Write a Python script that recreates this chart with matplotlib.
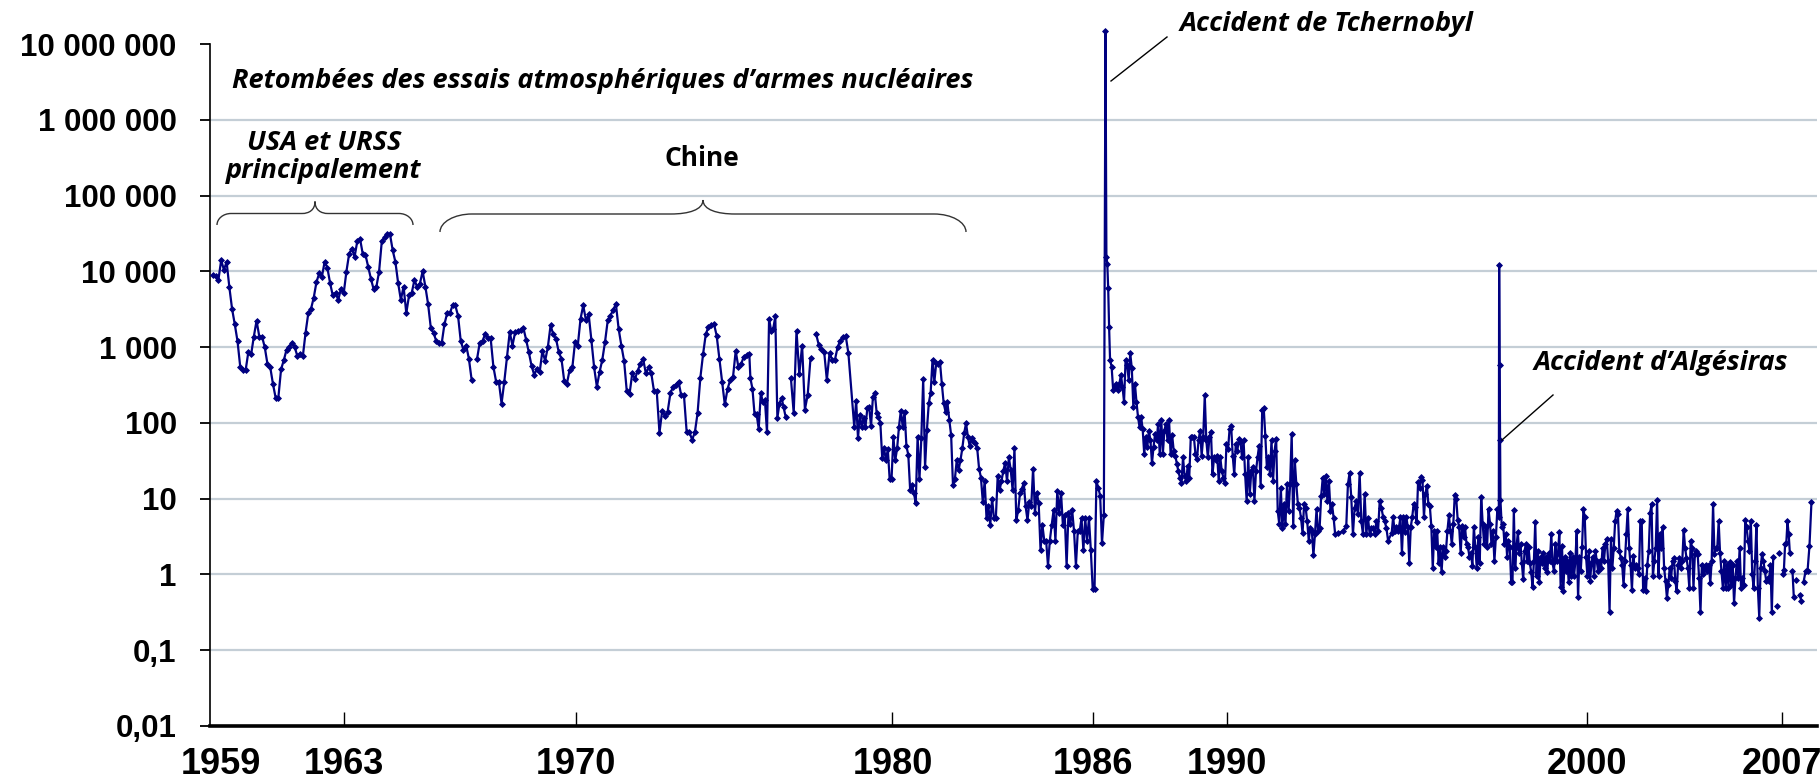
import numpy as np
import matplotlib
matplotlib.use('Agg')
import matplotlib.pyplot as plt
import matplotlib.transforms as mtransforms
from matplotlib.path import Path
from matplotlib.patches import PathPatch
from matplotlib.lines import Line2D
from matplotlib.ticker import NullLocator

# --- readings, block by block (each block = the period it covers) ---
# monthly 1959 - 1966
v1959 = [8900, 8600, 7800, 14000, 10500, 13300, 6200, 3200, 2000, 1200,
         550, 500, 500, 870, 800, 1380, 2230, 1380, 1380, 1000,
         600, 550, 330, 215, 215, 510, 670, 920, 1000, 1150,
         1000, 760, 820, 760, 1550, 2800, 3200, 4500, 7200, 9400,
         8500, 13300, 11200, 7000, 4800, 5200, 4200, 5900, 5100, 9900,
         17000, 20000, 15500, 25000, 27000, 17000, 16500, 11500, 8000, 5800,
         6200, 9900, 25000, 28000, 31000, 31000, 19000, 13300, 7000, 4200,
         6300, 2800, 4800, 5200, 7700, 6200, 6900, 10000, 6300, 3700,
         1800, 1550, 1200, 1120, 1120, 2000, 2800, 2800, 3550, 3550,
         2600, 1200, 920, 1050, 700, 370]
# monthly 1967 - 1975
v1967 = [700, 1150, 1200, 1500, 1300, 1300, 550, 350, 350, 180,
         350, 750, 1580, 1050, 1580, 1650, 1700, 1800, 1260, 860,
         570, 430, 520, 470, 890, 660, 1000, 1930, 1470, 1290,
         860, 700, 360, 330, 500, 540, 1170, 1050, 2360, 3550,
         2250, 2700, 1230, 540, 300, 470, 680, 1170, 2250, 2600,
         3100, 3700, 1740, 1050, 660, 260, 240, 450, 380, 490,
         600, 700, 450, 540, 450, 260, 260, 74, 145, 125,
         140, 245, 300, 320, 350, 230, 230, 75, 75, 60,
         75, 135, 390, 800, 1470, 1870, 1930, 2040, 1420, 700,
         350, 175, 280, 370, 400, 890, 540, 600, 750, 780,
         810]
v1975 = [390, 280, 130, 130, 83, 245, 190, 200, 75, 2360, 1650, 1740, 2540,
         117, 180, 215, 160, 120]
v1976 = [390, 135, 1650, 440, 1050, 150, 235, 715]
v1977 = [1500, 1070, 940, 875, 370, 830, 680, 680, 1000, 1220, 1360, 1410, 830]
v1978 = [88, 197, 63, 128, 88, 115, 88, 155, 160, 91, 218, 250, 137, 120, 100,
         34, 46, 32, 45, 18, 18, 66, 32, 46, 89, 145, 89, 141, 49, 38, 13, 15,
         12, 8.7, 66, 18, 63, 380, 26, 81, 182, 250, 680, 350, 615, 590, 640,
         330, 182, 140, 186, 110, 69, 15, 18, 32, 24, 32, 46, 73, 99, 66, 49,
         63, 57, 54, 46, 25, 19, 9.1, 17, 5.5, 7.9, 4.5, 10, 5.5, 5.5, 20, 13,
         17, 23, 30, 17, 35, 24, 13, 46, 5.2, 7, 12, 13.6, 16, 7.9, 5.2, 9.1,
         7.9, 25, 6.5, 12, 8.7, 2.1, 4.5, 2.8, 2.8, 1.3, 2.8, 4.5, 7, 2.8,
         12.7, 6.5, 12, 4.5, 6, 1.3, 6.5, 4.7, 7, 3.7, 1.3, 3.7, 3.7, 5.5,
         2.1, 5.5, 2.8, 5.5, 2.1, 0.65, 0.65, 17, 14, 11, 2.6, 6.1]
v_tchernobyl = [1.5e7, 15500, 12600, 6000, 1870]
v1986 = [680, 550, 270, 300, 330, 270, 330, 430, 300, 190, 680, 580, 370, 830,
         525, 162, 330, 190, 120, 88, 120, 83, 39, 65, 48, 79, 59, 29.5, 48,
         72, 59, 98, 39, 110, 39, 79, 98, 59, 108, 39, 69, 43, 37, 29, 23, 19,
         16, 35, 20, 17, 27, 19, 65, 65, 65, 39, 33, 59, 79, 37, 65, 230, 59,
         35, 65, 75, 21, 35, 32, 37, 17, 35, 23, 19, 16, 53, 45, 83, 92, 37,
         21, 53, 43, 62, 56, 35, 59, 21, 9.3, 35, 11.5, 23, 26, 9.3, 23, 35,
         50, 14.7, 147, 155, 68, 26, 35, 21, 59, 17, 43, 62, 6.9, 4.6, 14, 4.1,
         8.4, 4.6, 15.5, 6.9, 15.5, 72, 4.3, 32, 15.5, 8.4, 7.6, 5.6, 3.5, 8.4,
         7.6, 5, 2.8, 4.1, 3.7, 1.8, 3.4, 7.2, 3.7, 4.1, 10.8, 19, 11.5, 20,
         9.3, 17, 6.9, 8.4, 5.6, 3.4]
v1993 = [3.5, 3.7]
v1993b = [4.3, 15.5, 22, 10.4, 3.4, 7.6, 9.3, 6.2, 22, 5, 3.4, 11.5, 3.4, 5.6,
          3.4, 4.1, 4.1, 3.4, 5, 3.7, 9.3, 7.6, 5.8, 5, 4.1, 2.8]
v1995 = [3.5, 5.7, 3.8, 4.2, 3.8, 4.2, 5.7, 1.9, 5.7, 3.6, 5.7, 4.2, 1.4, 4.2,
         5.7, 8.5, 7.7, 4.9, 16.6, 14, 19.4, 17.5, 5.7, 11.6, 14.9, 8.5, 8,
         4.4, 1.2, 3.8, 2.3, 3.8, 1.4, 2.3, 1.07, 2.3, 1.7, 2.05, 3.8, 6.0,
         3.8, 2.5, 4.7, 11.3, 10, 5.2, 4.2, 1.9, 4.4, 3.1, 4.2, 2.5, 2.3, 1.7,
         1.9, 1.3, 4.2, 2.3, 1.2, 3.1, 1.4, 10.5, 4.7, 2.5, 4.2, 2.3, 7.3, 4.7,
         2.5, 3.8, 1.5, 3.1, 7.3, 5.7]
v_algesiras = [12300, 580, 59]
v1998 = [9.5, 4.2, 4.7, 2.5, 3.4, 1.7, 2.8, 2.3, 0.79, 0.79, 7, 1.2, 2.3, 3.6,
         1.9, 2.5, 1.4, 0.87, 2.05, 2.5, 1.5, 2.3, 1.4, 1.07, 0.68, 1.5, 4.9,
         0.94, 2.05, 0.79, 1.7, 1.4, 1.9, 1.2, 1.7, 1.07, 1.9, 1.5, 3.4, 1.4,
         1.1, 2.5, 1.5, 1.9, 3.6, 0.68, 2.4, 0.6, 1.7, 1.1, 1.5, 0.79, 1.9,
         0.94, 1.7, 0.94, 1.5, 3.8, 0.5, 1.7, 1.1, 2.3, 7.3, 5.7, 1.7, 0.94,
         2.05, 0.83, 1.4, 1.7, 0.94, 2.05, 1.5, 1.1]
v2001 = [1.5, 1.22, 2.25, 1.5, 2.5, 2.9, 1.5, 0.32, 2.9, 1.22, 2.25, 5, 6.9,
         6.2, 2.05, 1.65, 1.35, 0.73, 1.5, 3.4, 7.2, 2.25, 1.35, 0.63, 1.75,
         1.22, 1.35, 1.22, 1.0, 5, 5, 0.63, 0.9, 0.6, 1.35, 2.05, 6.5, 8.4,
         0.95, 1.5, 2.25, 9.5, 0.95, 3.4, 2.25, 4.2, 1.22, 0.82, 0.49, 0.73,
         1.22, 0.9, 1.5, 1.65, 0.82, 0.6, 1.35, 1.65, 1.22, 1.5, 3.9, 2.25,
         1.65, 1.22, 0.67, 2.75, 2.25, 0.67, 1.85, 2.05, 1.85, 0.9, 0.32, 1.35,
         1.0, 1.22, 1.35, 1.1, 1.35, 0.77, 1.5, 8.4, 1.85, 2.25, 2.25, 5, 1.9,
         1.1, 0.67, 1.5, 0.67, 1.35, 0.67, 1.45, 0.73, 1.35, 0.42, 0.9, 1.5,
         0.9, 2.25, 0.67, 0.9, 0.73, 5.3, 4.2, 2.75, 2.05, 5, 1.0, 0.67, 1.5,
         4.5, 0.67, 0.27, 1.22, 1.85, 1.5, 1.1, 0.82, 0.9, 0.82, 1.35, 0.32,
         1.7]
v2006a = [0.38]
v2006b = [1.9]
v2007a = [1.0, 1.15, 2.5, 2.6, 5.0, 3.4, 1.9]
v2007b = [1.1, 0.5]
v2007c = [0.85]
v2007d = [0.54, 0.45]
v2007e = [0.8, 1.1, 1.1, 2.4, 9.0]

# (first date, last date, readings, break in the record before)
blocks = [
    (1959.0, 1966.917, v1959, False),
    (1967.083, 1975.417, v1967, True),
    (1975.45, 1976.53, v1975, False),
    (1976.69, 1977.29, v1976, True),
    (1977.46, 1978.45, v1977, True),
    (1978.63, 1986.27, v1978, False),
    (1986.32, 1986.43, v_tchernobyl, False),
    (1986.46, 1993.35, v1986, False),
    (1993.44, 1993.59, v1993, False),
    (1993.69, 1994.97, v1993b, False),
    (1995.08, 1998.36, v1995, False),
    (1998.37, 1998.40, v_algesiras, False),
    (1998.41, 2001.40, v1998, False),
    (2001.45, 2006.76, v2001, False),
    (2006.89, 2006.89, v2006a, True),
    (2006.94, 2006.94, v2006b, True),
    (2007.05, 2007.27, v2007a, True),
    (2007.35, 2007.39, v2007b, True),
    (2007.47, 2007.47, v2007c, True),
    (2007.57, 2007.62, v2007d, True),
    (2007.69, 2007.93, v2007e, True),
]

year_labels = ['1959', '1963', '1970', '1980', '1986', '1990', '2000', '2007']
year_pos = [1959.25, 1963.0, 1970.1, 1979.8, 1985.95, 1990.05, 2001.05, 2007.03]
y_ticks = [0.01, 0.1, 1, 10, 100, 1e3, 1e4, 1e5, 1e6, 1e7]
y_labels = ['0,01', '0,1', '1', '10', '100', '1 000', '10 000', '100 000',
            '1 000 000', '10 000 000']

x, y = [], []
for t0, t1, vals, gap in blocks:
    if gap:
        x.append(np.nan)
        y.append(np.nan)
    x.extend(np.linspace(t0, t1, len(vals)))
    y.extend(vals)

W, H = 1820, 781
fig = plt.figure(figsize=(W / 100, H / 100), dpi=100)
ax = fig.add_axes([210 / W, 55 / H, 1607 / W, 682 / H])

ax.set_yscale('log')
ax.set_ylim(0.01, 1e7)
ax.set_xlim(1958.908, 2008.1)

for g in y_ticks[1:-1]:
    ax.axhline(g, color='#c4ced6', lw=1.6, zorder=1)

ax.plot(x, y, color='#000080', lw=1.6, marker='D', ms=3.0, mew=0.6,
        clip_on=False, zorder=3)

for s in ['top', 'right']:
    ax.spines[s].set_visible(False)
ax.spines['left'].set_linewidth(1.2)
ax.spines['bottom'].set_linewidth(2.6)

ax.set_yticks(y_ticks)
ax.set_yticklabels(y_labels, fontfamily='Liberation Sans', fontweight='bold',
                   fontsize=22.5)
ax.yaxis.set_minor_locator(NullLocator())
ax.tick_params(axis='y', direction='out', length=7, width=1.3, pad=17)

ax.set_xticks(year_pos)
ax.set_xticklabels(year_labels, fontfamily=['Liberation Sans Narrow', 'Liberation Sans'],
                   fontweight='bold', fontsize=26)
ax.tick_params(axis='x', direction='in', length=10, width=1.0, pad=15)
ax.xaxis.get_major_ticks()[0].tick1line.set_visible(False)

# pixel coordinates of the reference (y downward) for annotations
px = mtransforms.Affine2D().scale(1 / W, -1 / H).translate(0, 1) + fig.transFigure

ann = dict(family='Open Sans', style='italic', fontweight='bold',
           fontsize=19.5, color='black', transform=px)
fig.text(232, 81, 'Retombées des essais atmosphériques d\u2019armes nucléaires',
         ha='left', va='center', **ann)
fig.text(324, 150, 'USA et URSS', ha='center', va='baseline', **ann)
fig.text(324, 178, 'principalement', ha='center', va='baseline', **ann)
fig.text(702, 159, 'Chine', ha='center', va='center', family='Open Sans',
         fontweight='bold', fontsize=19, transform=px)
fig.text(1180, 24, 'Accident de Tchernobyl', ha='left', va='center', **ann)
fig.text(1534, 363, 'Accident d\u2019Algésiras', ha='left', va='center', **ann)

fig.add_artist(Line2D([1111, 1167], [81, 37], color='black', lw=1.0, transform=px))
fig.add_artist(Line2D([1502, 1553], [440, 395], color='black', lw=1.0, transform=px))


def brace(x0, x1, xm, y_end, y_h, y_tip, r, r2):
    verts = [(x0, y_end),
             (x0, y_h + 0.45 * (y_end - y_h)), (x0 + 0.45 * r, y_h), (x0 + r, y_h),
             (xm - r2, y_h),
             (xm - 0.45 * r2, y_h), (xm, y_h - 0.3 * (y_h - y_tip)), (xm, y_tip),
             (xm, y_h - 0.3 * (y_h - y_tip)), (xm + 0.45 * r2, y_h), (xm + r2, y_h),
             (x1 - r, y_h),
             (x1 - 0.45 * r, y_h), (x1, y_h + 0.45 * (y_end - y_h)), (x1, y_end)]
    codes = [Path.MOVETO, Path.CURVE4, Path.CURVE4, Path.CURVE4, Path.LINETO,
             Path.CURVE4, Path.CURVE4, Path.CURVE4, Path.CURVE4, Path.CURVE4,
             Path.CURVE4, Path.LINETO, Path.CURVE4, Path.CURVE4, Path.CURVE4]
    fig.add_artist(PathPatch(Path(verts, codes), fill=False, lw=1.0,
                             edgecolor='#333333', transform=px))


brace(217, 413, 315, 225, 213.5, 201.5, 14, 13)
brace(440, 966, 703, 232, 214, 200, 32, 32)

fig.savefig('out.png', dpi=100)
